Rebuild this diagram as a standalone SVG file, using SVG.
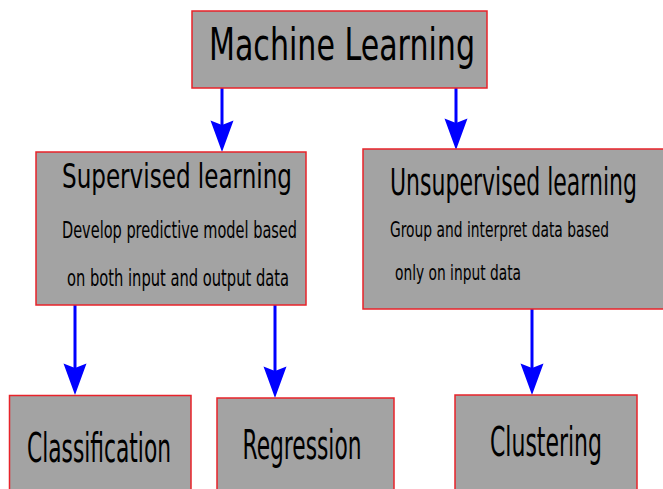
<svg xmlns="http://www.w3.org/2000/svg" width="663" height="489" viewBox="0 0 663 489">
  <style>
    .box { fill: #a3a3a3; stroke: #e8232a; stroke-width: 1.5; }
    .lbl { font-family: "DejaVu Sans", "Liberation Sans", sans-serif; fill: #000; }
    .edge { stroke: #0000ff; stroke-width: 3; fill: none; marker-end: url(#head); }
  </style>
  <defs>
    <!-- swept-back arrowhead; the line ends at the notch, the tip lies 27px beyond -->
    <marker id="head" markerUnits="userSpaceOnUse" markerWidth="32" markerHeight="24" refX="0" refY="0" orient="auto" overflow="visible">
      <path d="M27,0 L-4.5,-11.5 L0,0 L-4.5,11.5 Z" fill="#0000ff"/>
    </marker>
  </defs>

  <rect width="663" height="489" fill="#ffffff"/>

  <g id="connectors">
    <line class="edge" x1="222" y1="88" x2="222" y2="125"/>
    <line class="edge" x1="456" y1="88" x2="456" y2="123"/>
    <line class="edge" x1="75" y1="305" x2="75" y2="368"/>
    <line class="edge" x1="275" y1="305" x2="275" y2="371"/>
    <line class="edge" x1="532" y1="309" x2="532" y2="368"/>
  </g>

  <g id="machine-learning">
    <rect class="box" x="192" y="11" width="295" height="77"/>
    <text class="lbl" x="209" y="60" font-size="45" textLength="266" lengthAdjust="spacingAndGlyphs">Machine Learning</text>
  </g>

  <g id="supervised">
    <rect class="box" x="36" y="152" width="270" height="153"/>
    <text class="lbl" x="62" y="188" font-size="34" textLength="230" lengthAdjust="spacingAndGlyphs">Supervised learning</text>
    <text class="lbl" x="62" y="238" font-size="22.5" textLength="235" lengthAdjust="spacingAndGlyphs">Develop predictive model based</text>
    <text class="lbl" x="67" y="285.5" font-size="22.5" textLength="222" lengthAdjust="spacingAndGlyphs">on both input and output data</text>
  </g>

  <g id="unsupervised">
    <rect class="box" x="363" y="149" width="310" height="160"/>
    <text class="lbl" x="390" y="195" font-size="37" textLength="247" lengthAdjust="spacingAndGlyphs">Unsupervised learning</text>
    <text class="lbl" x="390" y="236.5" font-size="21.5" textLength="219" lengthAdjust="spacingAndGlyphs">Group and interpret data based</text>
    <text class="lbl" x="395" y="280" font-size="21.5" textLength="126" lengthAdjust="spacingAndGlyphs">only on input data</text>
  </g>

  <g id="classification">
    <rect class="box" x="9.5" y="395.5" width="181.5" height="110"/>
    <text class="lbl" x="27" y="462" font-size="41" textLength="144" lengthAdjust="spacingAndGlyphs">Classification</text>
  </g>

  <g id="regression">
    <rect class="box" x="217" y="398" width="177" height="110"/>
    <text class="lbl" x="242.5" y="459" font-size="40" textLength="119" lengthAdjust="spacingAndGlyphs">Regression</text>
  </g>

  <g id="clustering">
    <rect class="box" x="455" y="395" width="182" height="110"/>
    <text class="lbl" x="490" y="455.5" font-size="41" textLength="112" lengthAdjust="spacingAndGlyphs">Clustering</text>
  </g>
</svg>
